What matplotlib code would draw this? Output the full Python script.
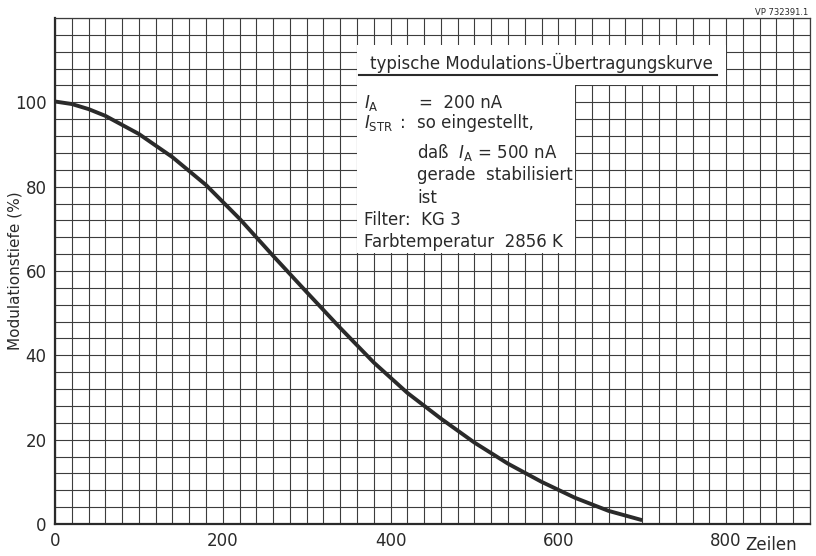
import numpy as np
import matplotlib.pyplot as plt
from matplotlib.patches import Rectangle
from matplotlib.ticker import MultipleLocator

zeilen = [0, 20, 40, 60, 100, 140, 180, 220, 260, 300, 340, 380, 420, 460, 500, 540, 580, 620, 660, 700]
modulation = [100.2, 99.6, 98.4, 96.8, 92.5, 87.0, 80.4, 72.4, 63.6, 55.0, 46.5, 38.3, 31.1,
              25.0, 19.3, 14.3, 10.0, 6.2, 3.1, 0.9]

x_ticks = [0, 200, 400, 600, 800]
y_ticks = [0, 20, 40, 60, 80, 100]

titel = "typische Modulations-Übertragungskurve"
info_zeilen = [
    (368, 99.8, r"$I_{\rm A}$"),
    (434, 99.8, "=  200 nA"),
    (368, 95.1, r"$I_{\rm STR}$"),
    (411, 95.1, ":"),
    (432, 95.1, "so eingestellt,"),
    (432, 88.2, r"daß  $I_{\rm A}$ = 500 nA"),
    (432, 82.8, "gerade  stabilisiert"),
    (432, 77.3, "ist"),
    (368, 72.1, "Filter:  KG 3"),
    (368, 66.9, "Farbtemperatur  2856 K"),
]

ink = "#2a2a2a"
grid_col = "#3c3c3c"

fig = plt.figure(figsize=(8.16, 5.56), dpi=100)
ax = fig.add_axes([0.0674, 0.0576, 0.9252, 0.91])

ax.plot(zeilen, modulation, color=ink, linewidth=2.8, solid_capstyle="butt",
        solid_joinstyle="round", zorder=4)

ax.set_xlim(0, 900)
ax.set_ylim(0, 120)
ax.set_xticks(x_ticks)
ax.set_yticks(y_ticks)
ax.xaxis.set_minor_locator(MultipleLocator(20))
ax.yaxis.set_minor_locator(MultipleLocator(4))
ax.set_axisbelow(True)
ax.grid(True, which="both", color=grid_col, linewidth=0.8)
ax.tick_params(which="both", length=0, labelsize=12, colors=ink, pad=6)

for side in ["top", "right"]:
    ax.spines[side].set_linewidth(0.9)
    ax.spines[side].set_color(grid_col)
for side in ["left", "bottom"]:
    ax.spines[side].set_linewidth(1.6)
    ax.spines[side].set_color(ink)

# weisse Textfelder
ax.add_patch(Rectangle((360.6, 64.2), 258.8, 49.4, facecolor="white", edgecolor="none", zorder=2))
ax.add_patch(Rectangle((360.6, 104.2), 438.8, 9.4, facecolor="white", edgecolor="none", zorder=2))

ax.text(376, 109.3, titel, fontsize=12, color=ink, va="center", ha="left", zorder=5)
ax.plot([362, 789], [106.4, 106.4], color=ink, linewidth=1.5, zorder=5)

for x, y, s in info_zeilen:
    ax.text(x, y, s, fontsize=12, color=ink, va="center", ha="left", zorder=5)

fig.text(0.018, 0.513, "Modulationstiefe (%)", fontsize=11, color=ink,
         rotation=90, ha="center", va="center")
fig.text(0.945, 0.004, "Zeilen", fontsize=12, color=ink, ha="center", va="bottom")
fig.text(0.99, 0.985, "VP 732391.1", fontsize=6, color=ink, ha="right", va="top")

fig.savefig("out.png", dpi=100, facecolor="white")
